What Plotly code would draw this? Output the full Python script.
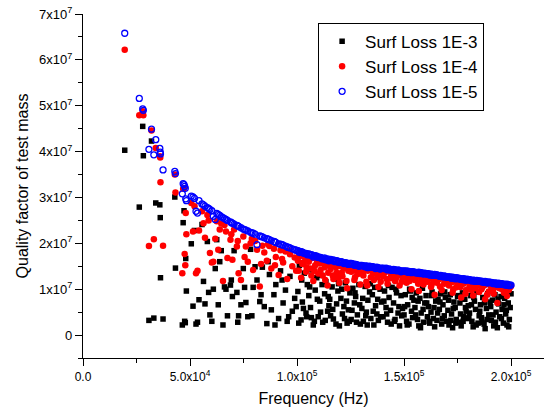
import plotly.graph_objects as go

# Mode frequencies (kHz) shared by the three surface-loss cases
freq_khz = [
    19.5, 26.3, 27.9, 28.2, 30.8, 32.0, 33.1, 34.0, 35.9, 36.1, 36.2, 37.4, 42.9, 43.2, 46.4, 46.8, 47.2, 47.5, 47.8, 48.0, 48.3,
    50.6, 51.4, 52.1, 52.8, 53.5, 54.2, 55.6, 56.3, 57.0, 58.1, 59.3, 60.2, 60.9, 61.8, 62.5, 63.9, 64.6, 65.4, 66.8, 67.5,
    68.9, 69.8, 70.6, 71.9, 72.7, 73.8, 74.9, 76.1, 77.0, 78.3, 79.5, 80.4, 81.3, 82.6, 83.8, 84.7, 85.9, 87.1, 88.0, 89.2,
    90.1, 91.4, 92.3, 93.5, 94.6, 95.4, 96.7, 97.8, 98.9, 99.6,
    100.4, 101.1, 101.9, 102.5, 103.4, 104.2, 104.8,
    105.5, 106.3, 107.0, 107.6, 108.5, 109.2, 109.9,
    110.6, 111.4, 112.0, 112.9, 113.5, 114.3, 114.9,
    115.7, 116.4, 117.0, 117.8, 118.5, 119.1, 119.8,
    120.5, 121.2, 121.9, 122.6, 123.4, 124.0, 124.7,
    125.3, 126.1, 126.8, 127.4, 128.2, 128.9, 129.6,
    130.3, 131.0, 131.8, 132.4, 133.1, 133.9, 134.5,
    135.2, 135.9, 136.7, 137.3, 138.0, 138.8, 139.5,
    140.2, 140.9, 141.6, 142.3, 143.0, 143.7, 144.4,
    145.1, 145.8, 146.5, 147.2, 147.9, 148.6, 149.3,
    150.0, 150.6, 151.2, 151.7, 152.3, 152.9, 153.5, 154.0, 154.6,
    155.1, 155.7, 156.3, 156.9, 157.4, 158.0, 158.6, 159.1, 159.7,
    160.3, 160.9, 161.4, 162.0, 162.6, 163.1, 163.7, 164.3, 164.8,
    165.4, 165.9, 166.5, 167.1, 167.6, 168.2, 168.8, 169.3, 169.9,
    170.5, 171.0, 171.6, 172.2, 172.7, 173.3, 173.9, 174.4, 175.0,
    175.6, 176.1, 176.7, 177.3, 177.8, 178.4, 179.0, 179.5, 180.0,
    180.6, 181.2, 181.7, 182.3, 182.9, 183.4, 184.0, 184.6, 185.1,
    185.7, 186.2, 186.8, 187.4, 187.9, 188.5, 189.1, 189.6, 190.2,
    190.8, 191.3, 191.9, 192.5, 193.0, 193.6, 194.2, 194.7, 195.3,
    195.8, 196.4, 197.0, 197.5, 198.1, 198.7, 199.2, 199.6, 200.0,
    58.7, 63.2, 66.1, 69.3, 72.3, 75.5, 78.9, 83.2, 86.5, 89.7, 93.0, 96.1,
    100.8, 102.2, 103.0, 104.5, 105.9, 106.7, 108.1, 109.5, 111.0, 111.7, 113.2, 114.6,
    115.3, 116.7, 118.2, 119.4, 120.9, 122.2, 123.1, 124.4, 125.7, 127.1, 127.8, 129.3,
    130.7, 132.1, 132.8, 134.2, 135.6, 136.3, 137.7, 139.1, 140.6, 141.9, 142.7, 144.0,
    145.5, 146.2, 147.6, 148.9, 150.3, 151.5, 152.6, 153.8, 155.4, 156.6, 157.7, 158.9,
    160.6, 161.7, 162.9, 164.0, 165.7, 166.8, 167.9, 169.0, 170.8, 171.9, 173.0, 174.2,
    175.3, 176.4, 177.6, 178.7, 180.3, 181.5, 182.6, 183.7, 185.4, 186.5, 187.6, 188.8,
    190.5, 191.6, 192.7, 193.9, 195.5, 196.7, 197.8, 198.9,
]

# Quality factor (units of 1e7), surface loss 1E-5 (blue open circles)
q_loss_1e5 = [
    6.58, 5.16, 4.93, 4.90, 4.05, 4.49, 3.93, 4.26, 4.07, 3.99, 3.95, 3.60, 3.57, 3.52, 3.08, 3.30, 3.28, 3.24, 3.20, 2.97, 2.93,
    3.03, 3.01, 2.98, 2.70, 2.66, 2.93, 2.86, 2.84, 2.81, 2.78, 2.74, 2.71, 2.59, 2.52, 2.65, 2.61, 2.58, 2.56, 2.52, 2.50,
    2.47, 2.44, 2.42, 2.39, 2.37, 2.34, 2.31, 2.29, 2.27, 2.24, 2.22, 2.20, 1.97, 2.16, 2.14, 2.12, 2.10, 2.08, 2.06, 2.04,
    2.02, 1.99, 1.98, 1.96, 1.94, 1.92, 1.90, 1.88, 1.86, 1.85,
    1.84, 1.80, 1.82, 1.81, 1.78, 1.78, 1.75,
    1.77, 1.74, 1.75, 1.70, 1.73, 1.72, 1.69,
    1.70, 1.68, 1.66, 1.68, 1.64, 1.66, 1.62,
    1.65, 1.63, 1.64, 1.60, 1.62, 1.61, 1.58,
    1.60, 1.59, 1.56, 1.58, 1.57, 1.54, 1.56,
    1.56, 1.55, 1.52, 1.54, 1.53, 1.50, 1.52,
    1.52, 1.51, 1.49, 1.51, 1.47, 1.50, 1.49,
    1.49, 1.48, 1.45, 1.48, 1.47, 1.44, 1.46,
    1.46, 1.45, 1.46, 1.42, 1.44, 1.43, 1.41,
    1.43, 1.42, 1.40, 1.42, 1.41, 1.38, 1.40,
    1.40, 1.39, 1.40, 1.37, 1.39, 1.38, 1.36, 1.38, 1.37,
    1.37, 1.36, 1.35, 1.37, 1.34, 1.36, 1.35, 1.33, 1.35,
    1.34, 1.33, 1.34, 1.31, 1.33, 1.32, 1.30, 1.32, 1.31,
    1.31, 1.30, 1.28, 1.30, 1.29, 1.27, 1.29, 1.28, 1.26,
    1.27, 1.26, 1.27, 1.24, 1.26, 1.25, 1.23, 1.25, 1.24,
    1.24, 1.22, 1.23, 1.21, 1.23, 1.22, 1.20, 1.22, 1.21,
    1.21, 1.20, 1.18, 1.20, 1.19, 1.17, 1.19, 1.18, 1.17,
    1.18, 1.16, 1.17, 1.15, 1.17, 1.16, 1.14, 1.16, 1.15,
    1.15, 1.14, 1.12, 1.14, 1.13, 1.11, 1.13, 1.12, 1.11,
    1.12, 1.10, 1.11, 1.09, 1.11, 1.10, 1.08, 1.09, 1.09,
    2.76, 2.63, 2.54, 2.45, 2.38, 2.30, 2.23, 2.15, 2.09, 2.03, 1.97, 1.91,
    1.83, 1.81, 1.79, 1.77, 1.76, 1.75, 1.72, 1.70, 1.69, 1.67, 1.65, 1.63,
    1.64, 1.62, 1.61, 1.59, 1.59, 1.57, 1.56, 1.55, 1.55, 1.54, 1.53, 1.51,
    1.51, 1.50, 1.49, 1.48, 1.48, 1.47, 1.46, 1.45, 1.45, 1.44, 1.43, 1.42,
    1.42, 1.41, 1.40, 1.39, 1.39, 1.39, 1.38, 1.37, 1.36, 1.36, 1.35, 1.34,
    1.33, 1.32, 1.31, 1.30, 1.30, 1.29, 1.28, 1.27, 1.26, 1.25, 1.24, 1.23,
    1.23, 1.22, 1.21, 1.20, 1.20, 1.19, 1.18, 1.17, 1.17, 1.16, 1.15, 1.14,
    1.14, 1.13, 1.12, 1.11, 1.11, 1.10, 1.09, 1.08,
]

# Quality factor (units of 1e7), surface loss 1E-4 (red dots)
q_loss_1e4 = [
    6.22, 4.79, 4.88, 4.79, 1.94, 4.46, 2.09, 4.08, 3.90, 3.87, 3.33, 1.95, 3.50, 3.11, 1.35, 3.19, 3.20, 1.77, 1.52, 2.66, 2.20,
    2.88, 2.26, 2.81, 1.35, 1.40, 2.28, 2.70, 2.44, 2.12, 2.62, 1.79, 1.58, 1.60, 2.10, 2.48, 2.30, 2.43, 1.18, 2.26, 1.68,
    2.08, 1.64, 2.30, 1.93, 1.35, 1.20, 2.15, 1.93, 1.60, 2.00, 1.42, 2.05, 1.86, 1.06, 1.95, 1.80, 1.62, 1.94, 1.45, 1.88,
    1.70, 1.31, 1.85, 1.58, 1.82, 1.22, 1.76, 1.50, 1.69, 1.40,
    1.62, 1.72, 1.25, 1.55, 1.70, 1.38, 1.66,
    1.60, 1.45, 1.68, 1.18, 1.52, 1.65, 1.34,
    1.56, 1.62, 1.30, 1.48, 1.58, 1.08, 1.52,
    1.44, 1.57, 1.22, 1.52, 1.36, 1.56, 1.14,
    1.50, 1.28, 1.45, 1.54, 1.02, 1.40, 1.50,
    1.38, 1.50, 1.20, 1.47, 1.33, 1.49, 1.10,
    1.44, 1.30, 1.47, 1.16, 1.40, 1.46, 1.26,
    1.42, 1.20, 1.44, 1.32, 1.05, 1.43, 1.36,
    1.28, 1.41, 1.38, 1.12, 1.40, 1.24, 1.38,
    1.36, 1.18, 1.39, 1.30, 1.08, 1.37, 1.26,
    1.30, 1.36, 1.14, 1.32, 1.22, 1.36, 1.00, 1.28, 1.34,
    1.20, 1.33, 1.27, 0.96, 1.31, 1.18, 1.33, 1.10, 1.28,
    1.30, 1.16, 1.31, 1.24, 1.05, 1.29, 1.20, 0.88, 1.27,
    1.14, 1.27, 1.22, 1.26, 0.98, 1.24, 1.12, 1.25, 1.18,
    1.22, 1.08, 1.24, 1.15, 0.92, 1.22, 1.18, 1.04, 1.21,
    1.10, 1.20, 0.82, 1.19, 1.12, 1.20, 0.98, 1.16, 1.19,
    1.06, 1.17, 1.12, 0.86, 1.16, 1.02, 1.17, 1.09, 0.94,
    1.14, 1.00, 1.15, 1.08, 0.78, 1.13, 1.11, 0.95, 1.12,
    1.04, 1.11, 0.90, 1.10, 1.06, 0.70, 1.10, 1.02, 1.08,
    1.00, 1.08, 0.96, 1.07, 0.85, 1.06, 1.02, 1.05, 1.07,
    2.50, 1.86, 2.40, 2.20, 2.05, 1.70, 2.10, 1.55, 1.98, 1.52, 1.66, 1.84,
    1.40, 1.76, 1.58, 1.48, 1.66, 1.30, 1.40, 1.58, 1.42, 1.60, 1.20, 1.36,
    1.54, 1.30, 1.48, 1.25, 1.36, 1.52, 1.18, 1.44, 1.46, 1.26, 1.40, 1.34,
    1.36, 1.42, 1.08, 1.44, 1.34, 1.40, 1.26, 1.16, 1.34, 1.22, 1.42, 1.30,
    1.33, 1.24, 1.38, 1.16, 1.26, 1.34, 1.18, 1.31, 1.29, 1.12, 1.34, 1.22,
    1.22, 1.28, 1.10, 1.26, 1.20, 1.06, 1.25, 1.14, 1.18, 1.22, 1.00, 1.16,
    1.18, 1.05, 1.16, 0.90, 1.15, 0.98, 1.13, 1.08, 1.12, 1.04, 1.13, 0.88,
    1.09, 0.98, 1.08, 1.04, 1.06, 0.92, 1.04, 0.98,
]

# Quality factor (units of 1e7), surface loss 1E-3 (black squares)
q_loss_1e3 = [
    4.03, 2.79, 4.55, 3.91, 0.32, 4.23, 0.37, 2.88, 2.84, 2.56, 1.25, 0.35, 3.01, 1.46, 0.22, 2.45, 2.71, 0.30, 0.27, 1.67, 0.96,
    1.99, 0.63, 2.28, 0.24, 0.28, 0.77, 2.41, 1.17, 0.68, 2.04, 0.44, 0.30, 1.00, 1.45, 2.08, 1.60, 1.84, 0.22, 1.00, 0.42,
    1.09, 0.84, 1.84, 0.93, 0.42, 0.66, 1.45, 0.71, 0.40, 1.87, 1.04, 1.49, 1.20, 0.73, 1.48, 0.62, 0.25, 1.32, 0.55, 0.88,
    1.10, 0.36, 1.40, 0.70, 0.98, 0.30, 1.28, 0.52, 0.80, 0.62,
    0.95, 1.52, 0.33, 0.72, 1.35, 0.48, 1.10,
    0.86, 0.60, 1.42, 0.22, 0.98, 1.25, 0.40,
    0.74, 1.30, 0.28, 0.90, 1.16, 0.52, 0.64,
    0.42, 1.05, 0.35, 1.22, 0.68, 0.96, 0.20,
    0.80, 0.46, 0.62, 1.14, 0.26, 0.55, 0.92,
    0.34, 1.02, 0.70, 0.84, 0.44, 1.10, 0.24,
    0.58, 0.30, 1.06, 0.50, 0.76, 0.94, 0.36,
    0.88, 0.22, 0.64, 0.46, 0.32, 1.00, 0.72,
    0.40, 0.96, 0.60, 0.28, 0.82, 0.54, 1.04,
    0.70, 0.34, 0.92, 0.48, 0.20, 0.86, 0.58,
    0.44, 0.88, 0.30, 0.66, 0.24, 0.96, 0.52, 0.38, 0.76,
    0.60, 0.92, 0.34, 0.20, 0.80, 0.48, 1.02, 0.28, 0.70,
    0.86, 0.40, 0.62, 0.26, 0.50, 0.94, 0.36, 0.18, 0.74,
    0.32, 0.78, 0.56, 0.90, 0.24, 0.66, 0.42, 0.82, 0.30,
    0.54, 0.22, 0.88, 0.46, 0.16, 0.72, 0.60, 0.34, 0.84,
    0.28, 0.70, 0.20, 0.92, 0.40, 0.78, 0.52, 0.36, 0.64,
    0.48, 0.86, 0.30, 0.18, 0.74, 0.56, 0.94, 0.26, 0.42,
    0.66, 0.38, 0.82, 0.24, 0.14, 0.58, 0.90, 0.44, 0.72,
    0.32, 0.76, 0.20, 0.88, 0.50, 0.16, 0.68, 0.40, 0.84,
    0.56, 0.26, 0.80, 0.46, 0.22, 0.70, 0.34, 0.60, 0.90,
    0.93, 0.66, 1.05, 1.20, 0.28, 1.04, 0.42, 0.88, 1.60, 0.22, 1.20, 0.40,
    0.26, 1.20, 0.58, 0.40, 1.05, 0.38, 0.30, 0.78, 0.50, 1.10, 0.32, 0.84,
    0.78, 0.56, 0.24, 1.12, 1.00, 0.36, 0.74, 0.30, 0.54, 0.92, 0.28, 0.66,
    0.80, 0.42, 0.22, 1.12, 0.52, 1.04, 0.78, 0.40, 0.74, 0.46, 1.08, 0.24,
    0.30, 1.00, 0.62, 0.42, 0.62, 0.22, 1.00, 0.82, 0.44, 0.74, 0.16, 0.56,
    0.70, 0.30, 0.86, 0.60, 0.48, 0.72, 0.36, 0.94, 0.76, 0.32, 0.58, 0.26,
    0.86, 0.46, 0.30, 0.60, 0.38, 0.66, 0.82, 0.22, 0.52, 0.28, 0.70, 0.34,
    0.62, 0.44, 0.28, 0.78, 0.36, 0.66, 0.54, 0.18,
]

series_names = ["Surf Loss 1E-3", "Surf Loss 1E-4", "Surf Loss 1E-5"]

x_tick_vals = [0, 50000, 100000, 150000, 200000]
x_tick_text = ["0.0", "5.0x10<sup>4</sup>", "1.0x10<sup>5</sup>", "1.5x10<sup>5</sup>", "2.0x10<sup>5</sup>"]
x_minor_vals = [25000, 75000, 125000, 175000]
y_tick_vals = [0, 1e7, 2e7, 3e7, 4e7, 5e7, 6e7, 7e7]
y_tick_text = ["0", "1x10<sup>7</sup>", "2x10<sup>7</sup>", "3x10<sup>7</sup>", "4x10<sup>7</sup>",
               "5x10<sup>7</sup>", "6x10<sup>7</sup>", "7x10<sup>7</sup>"]
y_minor_vals = [-5e6, 5e6, 1.5e7, 2.5e7, 3.5e7, 4.5e7, 5.5e7, 6.5e7]

freq_hz = [f * 1000 for f in freq_khz]

fig = go.Figure()
fig.add_trace(go.Scatter(
    x=freq_hz, y=[q * 1e7 for q in q_loss_1e3], mode="markers", name=series_names[0],
    marker=dict(symbol="square", size=5.5, color="black", line=dict(width=0))))
fig.add_trace(go.Scatter(
    x=freq_hz, y=[q * 1e7 for q in q_loss_1e4], mode="markers", name=series_names[1],
    marker=dict(symbol="circle", size=6.5, color="#ff0000", line=dict(width=0))))
fig.add_trace(go.Scatter(
    x=freq_hz, y=[q * 1e7 for q in q_loss_1e5], mode="markers", name=series_names[2],
    marker=dict(symbol="circle-open", size=6, color="#0000ff", line=dict(width=1.3, color="#0000ff"))))

font_family = "Liberation Sans, Arial, sans-serif"

fig.update_layout(
    width=544, height=416,
    margin=dict(l=83, r=0, t=14, b=58, autoexpand=False),
    plot_bgcolor="white", paper_bgcolor="white",
    font=dict(family=font_family, color="black"),
    showlegend=True,
    legend=dict(x=0.51, y=0.975, xanchor="left", yanchor="top",
                bordercolor="black", borderwidth=1, bgcolor="white",
                font=dict(size=17, family=font_family, color="black"),
                itemwidth=36, tracegroupgap=0),
)
fig.update_xaxes(
    range=[0, 215400], showline=True, linecolor="black", linewidth=1.3,
    showgrid=False, zeroline=False, automargin=False,
    ticks="outside", ticklen=7, tickwidth=1, tickcolor="black",
    tickmode="array", tickvals=x_tick_vals, ticktext=x_tick_text,
    tickfont=dict(size=12, family=font_family, color="black"),
    minor=dict(ticks="outside", ticklen=4, tickwidth=1, tickcolor="black", tickvals=x_minor_vals, showgrid=False),
    title=dict(text="Frequency (Hz)", font=dict(size=16, family=font_family, color="black"), standoff=10),
)
fig.update_yaxes(
    range=[-5e6, 7e7], showline=True, linecolor="black", linewidth=1.3,
    showgrid=False, zeroline=False, automargin=False,
    ticks="outside", ticklen=7, tickwidth=1, tickcolor="black",
    tickmode="array", tickvals=y_tick_vals, ticktext=y_tick_text,
    tickfont=dict(size=13, family=font_family, color="black"),
    minor=dict(ticks="outside", ticklen=4, tickwidth=1, tickcolor="black", tickvals=y_minor_vals, showgrid=False),
    title=dict(text="Quality factor of test mass", font=dict(size=16, family=font_family, color="black"), standoff=6),
)

fig.write_html("out.html", config={"displayModeBar": False},
               post_script="document.body.style.margin='0px';document.body.style.overflow='hidden';")
